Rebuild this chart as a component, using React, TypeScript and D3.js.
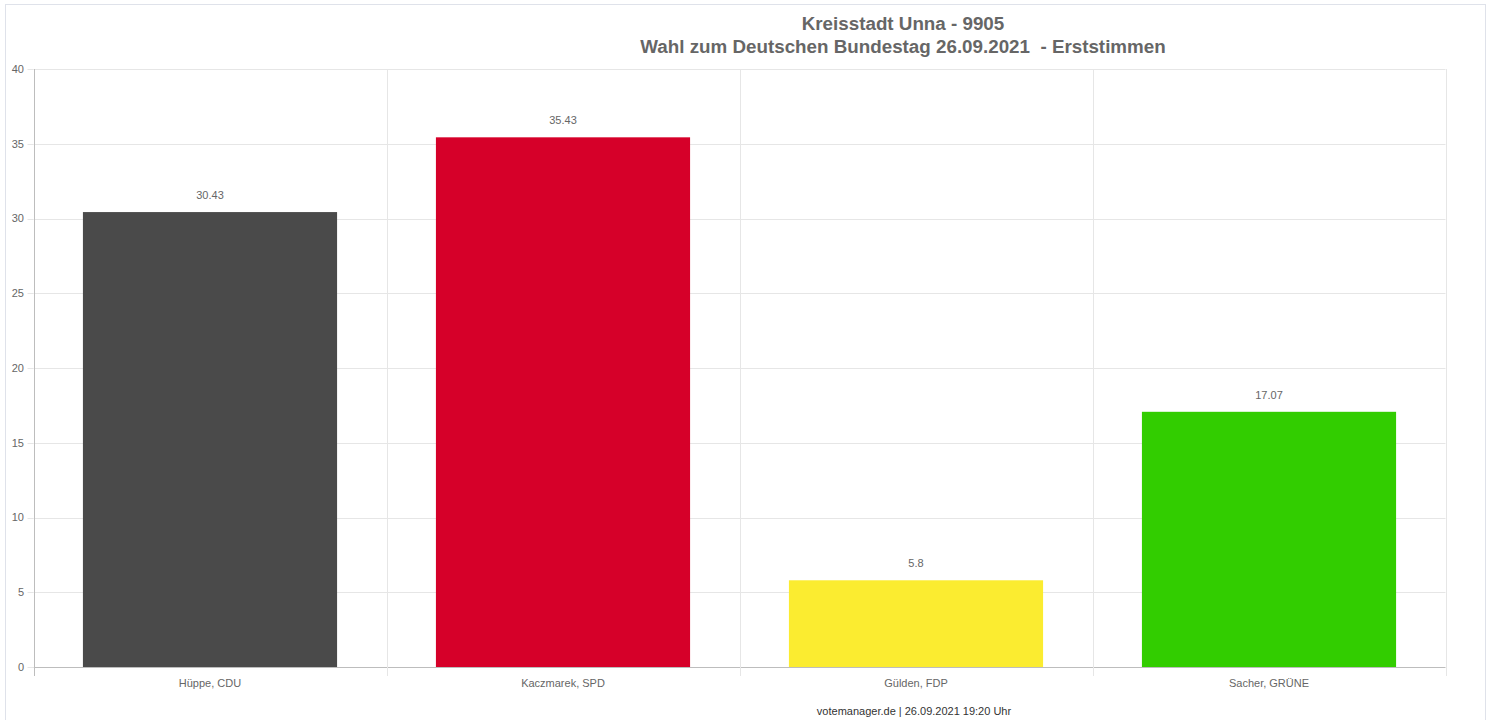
import React from "react";
import * as d3 from "d3";

const categories = ["Hüppe, CDU", "Kaczmarek, SPD", "Gülden, FDP", "Sacher, GRÜNE"];
const values = [30.43, 35.43, 5.8, 17.07];
const colors = ["#4a4a4a", "#d60029", "#fbec30", "#32cd00"];
const yTicks = [0, 5, 10, 15, 20, 25, 30, 35, 40];
const titleLines = ["Kreisstadt Unna - 9905", "Wahl zum Deutschen Bundestag 26.09.2021  - Erststimmen"];
const footer = "votemanager.de | 26.09.2021 19:20 Uhr";

const W = 1494;
const H = 720;
const left = 33.5;
const right = 1445.5;
const top = 69;
const bottom = 667;

export default function App() {
  const x = d3.scaleBand<string>().domain(categories).range([left, right]).paddingInner(0).paddingOuter(0);
  const y = d3.scaleLinear().domain([0, 40]).range([bottom, top]);
  const bw = x.bandwidth() * 0.72;
  const font = "Arial, 'Liberation Sans', Helvetica, sans-serif";
  const gridXs = categories.map((c) => x(c)!).concat([right]);
  return (
    <div style={{ position: "fixed", left: 0, top: 0 }}>
      <svg width={W} height={H} style={{ display: "block" }} fontFamily={font}>
        <rect x={0} y={0} width={W} height={H} fill="#fff" />
        <rect x={5.5} y={4.5} width={1480} height={H} fill="none" stroke="#dfe2ea" />
        {yTicks.map((t) => (
          <g key={"y" + t}>
            <line x1={left} x2={right} y1={Math.round(y(t)) + 0.5} y2={Math.round(y(t)) + 0.5}
              stroke={t === 0 ? "#bdbdbd" : "#e6e6e6"} />
            <line x1={left - 6} x2={left} y1={Math.round(y(t)) + 0.5} y2={Math.round(y(t)) + 0.5} stroke="#e6e6e6" />
            <text x={24} y={y(t)} dy="0.35em" textAnchor="end" fontSize={11} fill="#666">{t}</text>
          </g>
        ))}
        {gridXs.map((gx, i) => (
          <line key={"v" + i} x1={Math.round(gx) + 0.5} x2={Math.round(gx) + 0.5} y1={top} y2={bottom + 9}
            stroke={i === 0 ? "#bdbdbd" : "#e6e6e6"} />
        ))}
        {categories.map((c, i) => {
          const cx = x(c)! + x.bandwidth() / 2;
          return (
            <g key={c}>
              <rect x={cx - bw / 2} y={y(values[i])} width={bw} height={y(0) - y(values[i])} fill={colors[i]} />
              <text x={cx} y={y(values[i]) - 13} textAnchor="middle" fontSize={11} fill="#666">{String(values[i])}</text>
              <text x={cx} y={683} dy="0.35em" textAnchor="middle" fontSize={11} fill="#666">{c}</text>
            </g>
          );
        })}
        <text x={903} y={30} textAnchor="middle" fontSize={18.8} fontWeight="bold" fill="#666"
          style={{ whiteSpace: "pre" }}>{titleLines[0]}</text>
        <text x={903} y={53} textAnchor="middle" fontSize={18.8} fontWeight="bold" fill="#666"
          style={{ whiteSpace: "pre" }}>{titleLines[1]}</text>
        <text x={914} y={711} dy="0.35em" textAnchor="middle" fontSize={11} fill="#333">{footer}</text>
      </svg>
    </div>
  );
}
